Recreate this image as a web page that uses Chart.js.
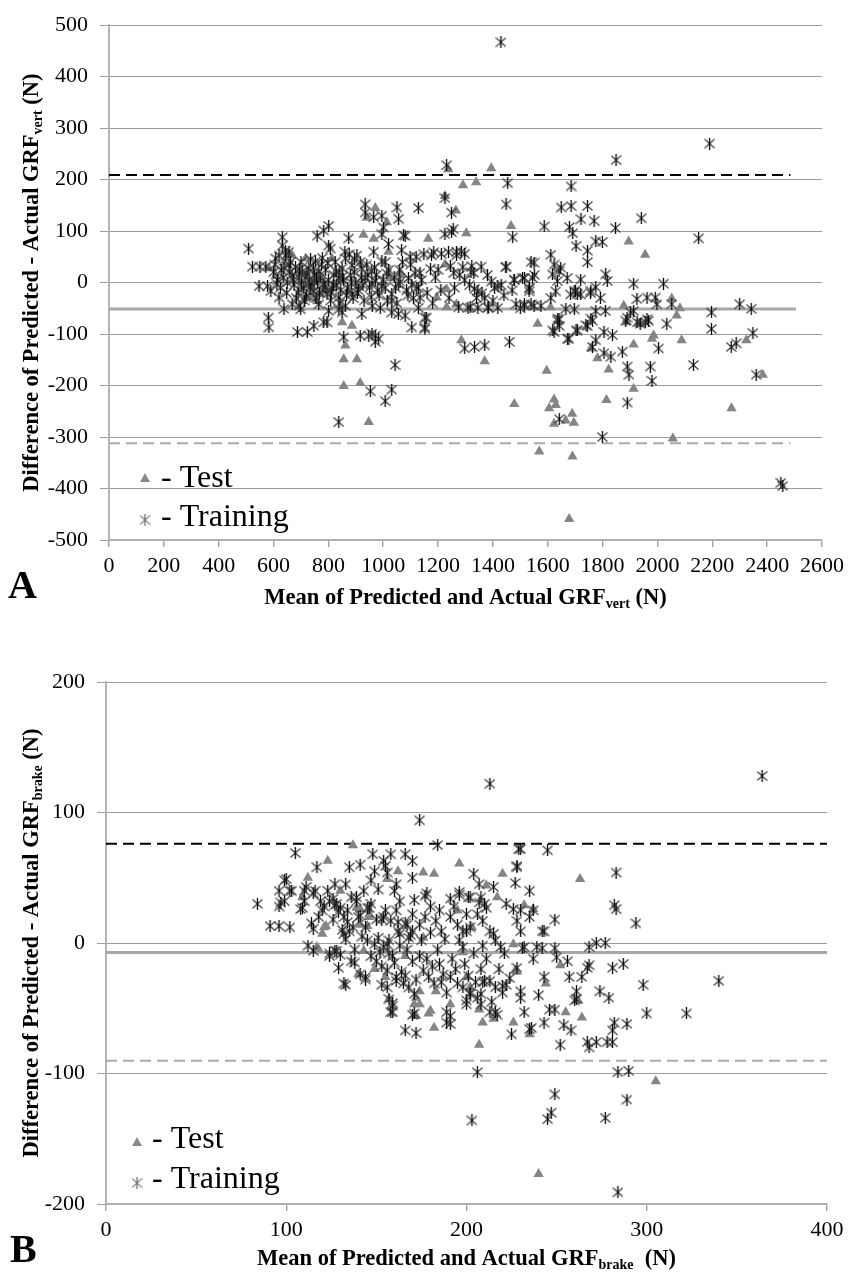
<!DOCTYPE html>
<html>
<head>
<meta charset="utf-8">
<script src="https://cdn.jsdelivr.net/npm/chart.js@4.4.0/dist/chart.umd.min.js"></script>
<style>
  body { margin: 0; background: #fff; }
  #wrapA { position: absolute; left: 0; top: 0; width: 850px; height: 640px; }
  #wrapB { position: absolute; left: 0; top: 640px; width: 850px; height: 633px; }
</style>
</head>
<body>
<div id="wrapA"><canvas id="chartA"></canvas></div>
<div id="wrapB"><canvas id="chartB"></canvas></div>
<script>
// ---- panel A : GRF vert ----
var xTicksA = [0, 200, 400, 600, 800, 1000, 1200, 1400, 1600, 1800, 2000, 2200, 2400, 2600];
var yTicksA = [-500, -400, -300, -200, -100, 0, 100, 200, 300, 400, 500];
var meanA = -51.5, upperA = 209, lowerA = -312, meanEndA = 2505, bandEndA = 2485;

var testA = [
  [1237,220],[1394,222],[1291,189],[1339,195],[1225,168],[1265,140],[971,145],[940,126],[928,93],[965,85],
  [1013,117],[1019,60],[1164,85],[1303,96],[1466,110],[668,53],[717,47],[759,-36],[801,-17],[1225,35],
  [1061,18],[910,-7],[1231,-13],[1231,-48],[1267,-42],[1195,-29],[850,-77],[886,-84],[862,-122],[856,-149],
  [904,-149],[856,-201],[916,-195],[947,-271],[583,28],[608,13],[656,54],[698,-13],[741,-29],[765,-22],
  [813,47],[850,3],[874,-16],[1025,9],[1068,15],[640,40],[690,20],[725,-5],[780,5],
  [1895,80],[1955,54],[2052,-31],[2082,-50],[2070,-64],[1877,-45],[1889,-77],[1937,-80],[1986,-103],[1980,-109],
  [1913,-120],[2088,-112],[1563,-80],[1610,-48],[2324,-112],[2384,-179],[1596,-171],[1822,-169],[1913,-206],[1814,-228],
  [2270,-244],[1623,-227],[1605,-244],[1629,-238],[1623,-274],[1689,-255],[1695,-272],[1665,-268],[2056,-303],[1569,-328],
  [1690,-338],[1678,-459],[1757,-128],[1781,-147],[1932,-80],[1478,-236],[1285,-112],[1370,-153]
];

var trainingA = [
  [509,66],[523,31],[550,31],[572,31],[547,-7],[578,-7],[590,-16],[581,-68],[583,-87],[620,-29],[638,-51],
  [632,88],[632,72],[620,53],[644,53],[656,60],[644,62],[608,47],[638,28],[656,34],[668,15],[693,9],[705,22],
  [729,28],[753,41],[765,22],[747,3],[783,-3],[795,-22],[813,-10],[838,9],[850,28],[862,47],[886,34],[904,53],
  [922,28],[934,9],[958,22],[971,3],[995,41],[1007,-10],[1031,-22],[1056,-3],[1092,9],[1122,-10],[1134,19],
  [668,-42],[693,-45],[717,-29],[747,-16],[765,-42],[801,-55],[838,-29],[862,-45],[886,-22],[922,-61],
  [699,-52],[687,-96],[723,-96],[747,-84],[783,-77],[795,-77],[759,91],[783,101],[801,110],[801,72],[807,66],
  [874,86],[838,-52],[850,-58],[856,-106],[916,-103],[947,-103],[959,-99],[971,-103],[983,-109],[971,-115],
  [1043,-160],[953,-211],[1031,-208],[1007,-230],[838,-271],
  [934,152],[934,136],[965,127],[995,130],[1001,107],[995,94],[1050,146],[1056,124],[1074,92],[1128,145],
  [1080,91],[1019,75],[1067,63],[1098,50],[965,60],[1007,40],[1013,18],[959,-1],[995,-7],[1031,-35],[1061,2],
  [1116,18],[1104,-4],[1128,-10],[1134,-29],[989,-49],[1031,-58],[1055,-61],[1080,-64],[1128,-49],[1158,-68],
  [1104,-87],[1152,-87],[1152,-68],[1152,-90],
  [1176,53],[1212,56],[1200,25],[1225,164],[1249,136],[1225,94],[1249,98],[1255,104],[1231,228],[1267,60],
  [1285,60],[1297,56],[1267,53],[1279,15],[1297,5],[1315,-5],[1333,-12],[1345,-17],[1357,31],[1394,2],[1418,-7],
  [1309,-49],[1345,-49],[1382,-49],[1418,-49],[1406,-10],[1370,-30],[1448,31],[1478,5],[1515,9],[1539,40],
  [1551,15],[1454,193],[1448,152],[1472,88],[1297,-128],[1333,-125],[1370,-122],[1460,-115],[1515,-42],
  [1539,-42],[1533,-10],
  [600,20],[615,5],[625,-10],[650,0],[660,20],[675,-5],[680,30],[690,-20],[700,40],[710,-10],[715,10],[720,-25],
  [730,5],[735,45],[740,-5],[750,15],[755,-30],[760,0],[770,10],[775,35],[780,-15],[790,25],[800,5],[810,-20],
  [820,15],[825,40],[830,-5],[840,20],[845,-15],[855,5],[860,60],[870,-10],[880,15],[890,-30],[895,45],[900,0],
  [910,-15],[920,10],[930,-35],[940,35],[950,-10],[960,-45],[975,15],[985,-25],[1000,5],[1015,-35],[1040,10],
  [1050,-40],[1060,25],[1085,-15],[1100,35],[1110,-30],[1140,5],[1160,-20],[1180,-40],[1190,10],[1210,-15],
  [1240,-30],[1260,-10],[1290,30],[1320,20],[1340,-30],[1360,-20],[1380,15],[1400,-35],[1430,-5],[1440,-25],
  [1470,-15],[1500,-50],
  [605,35],[612,-2],[628,25],[635,10],[648,-20],[662,40],[672,5],[683,-30],[695,25],[702,0],[712,-35],[722,18],
  [733,-12],[745,28],[757,8],[768,-20],[778,48],[788,-8],[798,38],[808,-35],[818,-5],[828,22],[842,-40],[852,12],
  [866,-25],[876,55],[884,0],[894,20],[906,-20],[916,40],[926,-5],[944,15],[956,-28],[968,30],[980,-15],
  [1020,25],[1045,-10],[1070,40],[1090,-25],[1120,50],
  [1148,55],[1184,59],[1238,59],[1172,27],[1245,32],[1257,19],[1323,32],[1330,19],[1447,30],[1477,6],[1550,39],
  [1532,-12],[1611,54],[1623,35],[1641,22],[1647,29],[1617,16],[1635,3],[1671,9],[1696,-16],[1708,-22],[1720,6],
  [1757,-16],[1775,-9],[1811,16],[1817,3],[1913,-2],[1925,-32],[1962,-29],[1992,-29],[2022,-2],[1998,-42],
  [2052,-42],[2197,-58],[2300,-42],[2342,-51],[1275,-48],[1317,-48],[1383,-48],[1484,-42],[1514,-45],[1575,-45],
  [1666,-51],[1775,-55],[1636,-70],[1757,-70],
  [1587,109],[1649,146],[1685,149],[1745,149],[1685,187],[1721,123],[1769,120],[1679,108],[1691,96],[1847,106],
  [1941,125],[2150,86],[1703,71],[1775,80],[1799,79],[1745,62],[1745,40],[1849,238],[2190,270],[1429,467],
  [1508,9],[1544,9],[1532,-17],[1611,-30],[1629,-17],[1683,-23],[1701,-17],[1720,-23],[1756,-20],[1550,-45],
  [1618,-93],[1636,-74],[1642,-84],[1672,-109],[1703,-93],[1739,-83],[1763,-74],[1775,-112],[1763,-125],[1805,-96],
  [1836,-102],[1805,-137],[1830,-144],[1872,-134],[1884,-74],[1890,-163],[1896,-179],[1926,-77],[1956,-77],
  [1962,-71],[1974,-163],[1980,-191],[2004,-128],[2034,-80],[2131,-160],[2197,-90],[2269,-125],[2287,-118],
  [2348,-98],[2360,-179],[1890,-233],[1642,-265],[1799,-300],[2450,-389],[2457,-395],[1697,-52],[1902,-58],
  [1641,-71],[1623,-96],[1677,-109],[1708,-93],[1744,-84],[1792,-30],[1810,-55],[1913,-55],[1889,-68],[1967,-74],
  [1937,-80]
];

// ---- panel B : GRF brake ----
var xTicksB = [0, 100, 200, 300, 400];
var yTicksB = [-200, -100, 0, 100, 200];
var meanB = -7.2, upperB = 76, lowerB = -90.3, meanEndB = 400, bandEndB = 400;

var testB = [
  [137,75],[123,63],[162,55],[176,54],[182,53],[156,49],[112,50],[109,35],[130,40],[121,12],[120,7],[141,26],
  [146,20],[145,13],[166,-10],[118,-5],[143,-6],[196,61],[220,53],[139,27],[141,14],[146,22],[122,13],[211,44],
  [217,35],[232,29],[237,26],[155,-26],[157,-43],[149,-20],[172,-42],[174,-47],[180,-52],[182,-65],[183,-37],
  [191,-47],[200,-26],[202,-34],[207,-51],[209,-61],[215,-58],[207,-78],[226,-1],[227,-21],[235,-70],[244,-31],
  [117,-3],[198,-7],[176,4],[263,49],[195,25],[203,12],[252,-17],[228,-22],[255,-53],[264,-57],[262,-44],
  [305,-106],[240,-177],[226,-61],[140,-24],[171,-47],[172,-56],[179,-54],[174,-37]
];

var trainingB = [
  [84,30],[91,13],[96,13],[102,12],[96,40],[99,48],[102,40],[96,28],[99,32],[105,69],[108,26],[110,32],[117,58],
  [111,43],[116,40],[114,15],[115,11],[112,-2],[115,-6],[119,32],[123,40],[126,34],[128,30],[130,27],[135,58],
  [141,60],[148,68],[154,63],[158,68],[166,68],[170,63],[149,55],[156,54],[151,41],[160,40],[136,35],[139,32],
  [134,25],[140,20],[124,-8],[128,-6],[132,7],[135,9],[136,-14],[138,-15],[145,27],[147,30],[153,18],[154,20],
  [166,15],[170,9],[145,2],[149,-1],[154,-3],[157,-8],[163,7],[168,4],[174,94],
  [155,59],[161,45],[170,50],[178,38],[184,75],[204,53],[207,45],[215,43],[228,59],[227,46],[230,72],[245,71],
  [191,34],[196,39],[202,35],[207,31],[211,27],[97,31],[100,49],[103,40],[109,27],[110,40],[115,38],[120,25],
  [124,32],[127,29],[129,24],[132,20],[134,16],[137,12],[139,35],[141,21],[146,27],[150,18],[155,25],[158,17],
  [161,25],[162,9],[167,14],[170,22],[174,14],[177,20],[183,17],[186,9],[191,20],[195,14],[198,9],[202,12],
  [206,22],[209,17],[213,9],[216,2],[124,-10],[127,-6],[130,-9],[141,-24],[144,-26],[129,-19],[133,-32],
  [152,-7],[156,-1],[159,-10],[163,-2],[150,-14],[156,-21],[161,-26],[165,-31],[168,-34],[170,-14],[174,-10],
  [176,-21],[179,-26],[182,-31],[185,-16],[187,-24],[191,-26],[195,-31],[198,-34],[202,-39],[206,-42],[209,-30],
  [213,-29],[216,-34],[220,-33],[157,-43],[159,-48],[159,-53],[166,-67],[172,-69],[170,-55],[186,-30],[189,-53],
  [191,-62],[200,-44],[208,-47],[213,-53],[217,-55],[225,-70],[232,-53],[236,-65],[243,-61],[220,-38],[222,-32],
  [228,-19],[230,-42],[230,9],[228,17],[230,25],[235,20],[232,-3],[239,-3],[242,9],[237,-12],[243,-26],[240,-40],
  [235,40],[237,25],[132,-31],[144,-28],[158,-53],[159,-46],[153,-32],[156,-34],[161,-29],[166,-25],[171,-39],
  [171,-54],
  [118,20],[121,28],[126,18],[131,10],[133,3],[138,-5],[142,5],[144,12],[147,-10],[151,4],[153,-18],[157,2],
  [160,-15],[162,16],[164,-22],[167,-5],[169,6],[172,-28],[175,2],[178,-12],[180,8],[181,-18],[184,-5],[188,3],
  [189,-38],[192,-12],[194,-20],[196,2],[199,-16],[201,-25],[204,-8],[205,-30],[208,-20],[211,-12],[214,-45],
  [218,-20],[221,-8],[224,-27],[127,45],[133,45],[143,40],[147,48],[163,32],[171,33],[180,28],[185,25],[193,28],
  [200,22],
  [213,122],[364,128],[229,72],[228,58],[283,54],[177,36],[196,37],[201,35],[208,35],[210,30],[222,30],[226,26],
  [282,29],[283,26],[249,18],[243,9],[294,15],[200,9],[215,7],[198,-3],[209,-2],[219,-3],[231,-4],[242,-4],
  [249,-4],[268,-3],[272,0],[277,0],[256,-14],[268,-17],[281,-19],[287,-16],[250,-11],
  [340,-29],[298,-32],[300,-54],[322,-54],[282,-61],[289,-62],[281,-67],[267,-76],[272,-76],[278,-76],[281,-76],
  [268,-80],[252,-78],[235,-66],[249,-51],[254,-63],[258,-67],[246,-51],[230,-37],[267,-19],[274,-37],[279,-42],
  [261,-37],[261,-43],[257,-26],[264,-26],[260,-44],[206,-99],[284,-99],[290,-98],[289,-120],[249,-116],
  [247,-130],[245,-135],[277,-134],[203,-136],[284,-191],[191,-56],[189,-61],[210,-29],[202,-38],[208,-39],
  [216,-53],[200,-47]
];

// asterisk marker: X in grey with a black vertical stroke
function makeStar() {
  var c = document.createElement('canvas');
  c.width = 11; c.height = 12;
  var g = c.getContext('2d');
  g.lineWidth = 1.1;
  g.strokeStyle = '#3c3c3c';
  g.beginPath();
  g.moveTo(0.5, 1.5); g.lineTo(10.5, 10.5);
  g.moveTo(10.5, 1.5); g.lineTo(0.5, 10.5);
  g.stroke();
  g.strokeStyle = '#000';
  g.lineWidth = 1.3;
  g.beginPath();
  g.moveTo(5.5, 0); g.lineTo(5.5, 12);
  g.stroke();
  return c;
}
var star = makeStar();

function pts(arr) {
  return arr.map(function (p) { return { x: p[0], y: p[1] }; });
}
function hline(y, x1, color, width, dash) {
  return {
    data: [{ x: 0, y: y }, { x: x1, y: y }],
    showLine: true, pointRadius: 0, borderColor: color, borderWidth: width,
    borderDash: dash, order: 2
  };
}

var SERIF = '"Liberation Serif", "Times New Roman", serif';

function drawTitle(ctx, main, sub, tail, cx, cy, vertical) {
  var big = 'bold 22.5px ' + SERIF, small = 'bold 14px ' + SERIF;
  ctx.font = big;
  var w1 = ctx.measureText(main).width, w3 = ctx.measureText(tail).width;
  ctx.font = small;
  var w2 = ctx.measureText(sub).width;
  ctx.save();
  ctx.translate(cx, cy);
  if (vertical) ctx.rotate(-Math.PI / 2);
  ctx.fillStyle = '#000';
  ctx.textAlign = 'left';
  ctx.textBaseline = 'alphabetic';
  var x = -(w1 + w2 + w3) / 2;
  ctx.font = big; ctx.fillText(main, x, 0); x += w1;
  ctx.font = small; ctx.fillText(sub, x, 4); x += w2;
  ctx.font = big; ctx.fillText(tail, x, 0);
  ctx.restore();
}

var decor = {
  id: 'decor',
  afterDraw: function (chart, args, o) {
    var ctx = chart.ctx, a = chart.chartArea;
    drawTitle(ctx, 'Mean of Predicted and Actual GRF', o.sub, o.xTail, (a.left + a.right) / 2, o.xTitleY, false);
    drawTitle(ctx, 'Difference of Predicted - Actual GRF', o.sub, ' (N)', 38, (a.top + a.bottom) / 2, true);

    ctx.save();
    ctx.fillStyle = '#000';
    ctx.textBaseline = 'alphabetic';
    ctx.font = 'bold 40px ' + SERIF;
    ctx.fillText(o.panel, o.panelX, o.panelY);

    // legend inside plot
    var L = o.legend;
    ctx.fillStyle = '#8a8a8a';
    ctx.beginPath();
    ctx.moveTo(L.x, L.triY - 5);
    ctx.lineTo(L.x + 5, L.triY + 4);
    ctx.lineTo(L.x - 5, L.triY + 4);
    ctx.closePath();
    ctx.fill();
    ctx.globalAlpha = 0.6;
    ctx.drawImage(star, L.x - 5.5, L.starY - 6);
    ctx.globalAlpha = 1;
    ctx.fillStyle = '#000';
    ctx.font = '32px ' + SERIF;
    ctx.fillText('- Test', L.textX, L.testBase);
    ctx.fillText('- Training', L.textX, L.trainBase);
    ctx.restore();
  }
};

function makeChart(id, xt, yt, training, test, lines, yWidth, pad, deco) {
  return new Chart(document.getElementById(id), {
    type: 'scatter',
    data: {
      datasets: [
        { label: 'Training', data: pts(training), pointStyle: star, pointRadius: 5, order: 0 },
        { label: 'Test', data: pts(test), pointStyle: 'triangle', pointRadius: 6,
          backgroundColor: '#858585', borderColor: '#858585', borderWidth: 0, order: 1 }
      ].concat(lines)
    },
    options: {
      responsive: true,
      maintainAspectRatio: false,
      animation: false,
      layout: { padding: pad },
      plugins: { legend: { display: false }, tooltip: { enabled: false }, decor: deco },
      scales: {
        x: {
          type: 'linear', min: xt[0], max: xt[xt.length - 1],
          afterFit: function (s) { s.height = 40; },
          ticks: { stepSize: xt[1] - xt[0], color: '#000', padding: 6,
                   font: { family: SERIF, size: 22 }, callback: function (v) { return v; } },
          grid: { drawOnChartArea: false, drawTicks: true, tickLength: 7, color: '#a8a8a8', lineWidth: 1.5 },
          border: { color: '#b0b0b0', width: 2 }
        },
        y: {
          type: 'linear', min: yt[0], max: yt[yt.length - 1],
          afterFit: function (s) { s.width = yWidth; },
          ticks: { stepSize: yt[1] - yt[0], color: '#000', padding: 12,
                   font: { family: SERIF, size: 22 }, callback: function (v) { return v; } },
          grid: { color: '#9c9c9c', lineWidth: 1, drawTicks: true, tickLength: 9 },
          border: { color: '#b4b4b4', width: 2 }
        }
      }
    },
    plugins: [decor]
  });
}

makeChart('chartA', xTicksA, yTicksA, trainingA, testA, [
  hline(meanA, meanEndA, '#a8a8a8', 3, []),
  hline(upperA, bandEndA, '#000', 2, [11, 6]),
  hline(lowerA, bandEndA, '#ababab', 2, [11, 6])
], 109, { left: 0, right: 24, top: 17, bottom: 60 }, {
  sub: 'vert', xTail: ' (N)', xTitleY: 604, panel: 'A', panelX: 8, panelY: 598,
  legend: { x: 145, triY: 478, starY: 520, textX: 161, testBase: 487, trainBase: 526 }
});

makeChart('chartB', xTicksB, yTicksB, trainingB, testB, [
  hline(meanB, meanEndB, '#a8a8a8', 3, []),
  hline(upperB, bandEndB, '#000', 2, [11, 6]),
  hline(lowerB, bandEndB, '#ababab', 2, [11, 6])
], 106, { left: 0, right: 23, top: 42, bottom: 29 }, {
  sub: 'brake', xTail: '  (N)', xTitleY: 625, panel: 'B', panelX: 10, panelY: 622,
  legend: { x: 137, triY: 502, starY: 543, textX: 152, testBase: 508, trainBase: 548 }
});
</script>
</body>
</html>
